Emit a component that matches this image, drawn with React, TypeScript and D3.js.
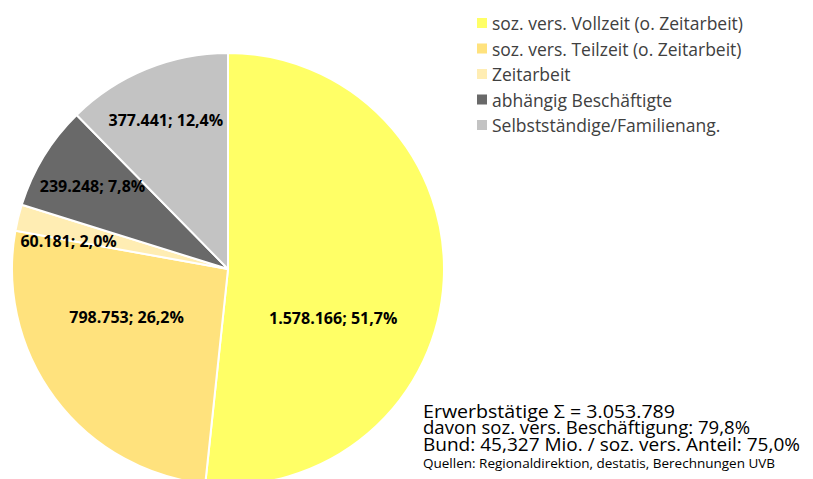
import React from "react";
import * as d3 from "d3";

const categories = [
  "soz. vers. Vollzeit (o. Zeitarbeit)",
  "soz. vers. Teilzeit (o. Zeitarbeit)",
  "Zeitarbeit",
  "abhängig Beschäftigte",
  "Selbstständige/Familienang.",
];
const values = [1578166, 798753, 60181, 239248, 377441];
const valueLabels = ["1.578.166", "798.753", "60.181", "239.248", "377.441"];
const percentLabels = ["51,7%", "26,2%", "2,0%", "7,8%", "12,4%"];
const colors = ["#FFFF66", "#FFE27D", "#FFEDB3", "#696969", "#C3C3C3"];
const infoLines = [
  "Erwerbstätige Σ = 3.053.789",
  "davon soz. vers. Beschäftigung: 79,8%",
  "Bund: 45,327 Mio. / soz. vers. Anteil: 75,0%",
];
const sourceLine = "Quellen: Regionaldirektion, destatis, Berechnungen UVB";

// label placement factors (fraction of radius) and pixel nudges
const labelRadius = [0.52, 0.5, 0.76, 0.735, 0.76];
const labelNudge: [number, number][] = [
  [-7, 43],
  [-15, -17],
  [0, 11],
  [0, 0],
  [0, 3],
];
const infoWidths = [252, 327, 377];

const W = 813;
const H = 479;
const FONT = "'Open Sans', Carlito, Calibri, Lato, sans-serif";

export default function App() {
  const cx = 228;
  const cy = 269;
  const r = 216;
  const pie = d3.pie<number>().sort(null).value((d) => d);
  const arcs = pie(values);
  const arc = d3.arc<d3.PieArcDatum<number>>().innerRadius(0).outerRadius(r);

  return (
    <svg
      width={W}
      height={H}
      style={{ position: "fixed", left: 0, top: 0, background: "#fff" }}
      fontFamily={FONT}
    >
      <g transform={`translate(${cx},${cy})`}>
        {arcs.map((a, i) => (
          <path key={i} d={arc(a) || ""} fill={colors[i]} stroke="#fff" strokeWidth={2} />
        ))}
        {arcs.map((a, i) => {
          const mid = (a.startAngle + a.endAngle) / 2;
          const lr = r * labelRadius[i];
          const x = Math.sin(mid) * lr + labelNudge[i][0];
          const y = -Math.cos(mid) * lr + labelNudge[i][1];
          return (
            <text
              key={i}
              x={x}
              y={y}
              textAnchor="middle"
              dominantBaseline="central"
              fontWeight="bold"
              fontSize={16}
              fill="#000"
            >
              {valueLabels[i]}; {percentLabels[i]}
            </text>
          );
        })}
      </g>
      <g>
        {categories.map((c, i) => (
          <g key={i} transform={`translate(477,${23 + i * 25.5})`}>
            <rect x={0} y={-5} width={10} height={10} fill={colors[i]} />
            <text x={15} y={0} dominantBaseline="central" fontSize={17.5} fill="#404040">
              {c}
            </text>
          </g>
        ))}
      </g>
      <g>
        {infoLines.map((t, i) => (
          <text
            key={i}
            x={423}
            y={417.5 + i * 16.5}
            fontSize={18}
            fill="#000"
            textLength={infoWidths[i]}
            lengthAdjust="spacingAndGlyphs"
          >
            {t}
          </text>
        ))}
        <text x={423} y={468} fontSize={13.5} fill="#000">
          {sourceLine}
        </text>
      </g>
    </svg>
  );
}
